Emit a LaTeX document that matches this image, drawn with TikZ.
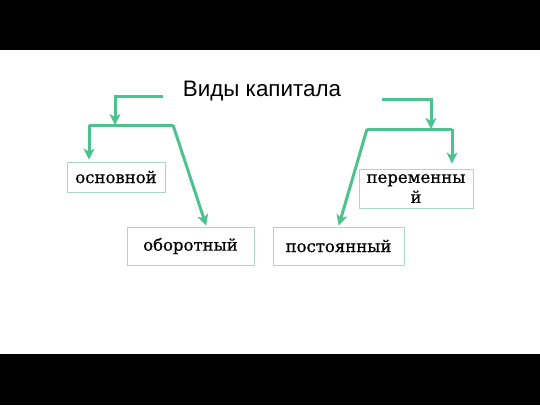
\documentclass[tikz,border=0pt]{standalone}
\usepackage{fontspec}
\setmainfont{DejaVu Serif}
\newfontfamily\boxfont{DejaVu Serif}[FakeBold=0.6]
\newfontfamily\headfont{Liberation Sans}
\usetikzlibrary{arrows.meta,calc}
\definecolor{arrowc}{HTML}{4CC38E}
\definecolor{boxc}{HTML}{A9D6C8}
\tikzset{
  kind/.style={draw=boxc, line width=0.9pt, align=center, inner sep=2pt,
    font=\boxfont\fontsize{16.5}{20}\selectfont},
  link/.style={draw=arrowc, line width=3pt, line join=miter},
  arr/.style={link, -{Stealth[length=11pt,width=11pt,inset=3pt]}},
  head/.style={font=\headfont\fontsize{22.4}{26}\selectfont}
}
\begin{document}
\begin{tikzpicture}[x=1pt, y=-1pt]
  \useasboundingbox (0,0) rectangle (540,405);
  \fill[black] (0,0) rectangle (540,50);
  \fill[black] (0,354) rectangle (540,405);
  \node[head] (title) at (262,91) {Виды капитала};
  \node[kind, minimum width=98pt, minimum height=30pt] (osn) at (116,177) {основной};
  \node[kind, minimum width=127pt, minimum height=38pt] (obor) at (190.5,246) {оборотный};
  \node[kind, minimum width=131pt, minimum height=38pt] (post) at (338.5,246) {постоянный};
  \node[kind, minimum width=114pt, minimum height=39pt] (perem) at (416,188.5) {переменны\\й};
  % left branch
  \coordinate (ls) at (163,96);
  \coordinate (lj) at (115,125);
  \coordinate (la) at (89,125);
  \coordinate (lb) at (173,125);
  \draw[arr] (ls) -- (ls -| lj) -- (lj);
  \draw[link] (la) -- (lb);
  \draw[arr, shorten >=2pt] (la) -- ([xshift=-27pt]osn.north);
  \draw[arr, shorten >=1pt] (lb) -- ([xshift=16pt]obor.north);
  % right branch
  \coordinate (rs) at (382,99);
  \coordinate (rj) at (431,129);
  \coordinate (ra) at (367,129);
  \coordinate (rb) at (452,129);
  \draw[arr] (rs) -- (rs -| rj) -- (rj);
  \draw[link] (ra) -- (rb);
  \draw[arr, shorten >=5pt] (rb) -- ([xshift=36pt]perem.north);
  \draw[arr, shorten >=1pt] (ra) -- (post.north);
\end{tikzpicture}
\end{document}
